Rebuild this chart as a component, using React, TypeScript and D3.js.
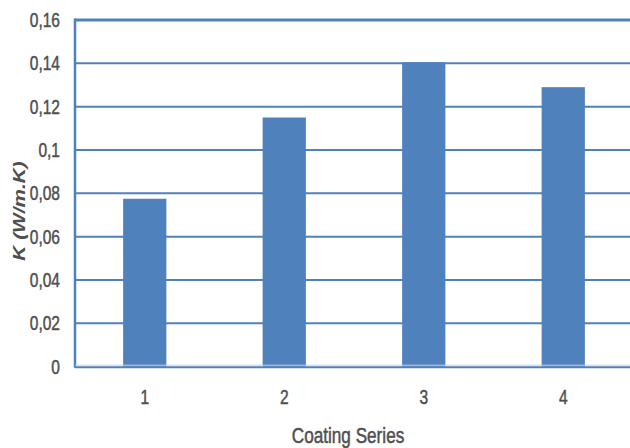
import React from "react";
import * as d3 from "d3";

const categories = ["1", "2", "3", "4"];
const values = [0.0775, 0.115, 0.1405, 0.129];
const yTicks = [0, 0.02, 0.04, 0.06, 0.08, 0.1, 0.12, 0.14, 0.16];
const yTickLabels = ["0", "0,02", "0,04", "0,06", "0,08", "0,1", "0,12", "0,14", "0,16"];

const W = 630;
const H = 448;
const BLUE = "#4F81BD";
const TEXT = "#4f4f4f";
const FONT = "'Liberation Sans', Arial, sans-serif";

export default function App() {
  const left = 75;
  const top = 20;
  const bottom = 366.7;
  const step = 139.5;

  const x = d3
    .scaleBand<string>()
    .domain(categories)
    .range([left, left + step * categories.length])
    .paddingInner(0.69)
    .paddingOuter(0.345);
  const y = d3.scaleLinear().domain([0, 0.16]).range([bottom, top]);

  return (
    <div style={{ position: "fixed", left: 0, top: 0, width: W, height: H, background: "#fff" }}>
      <svg width={W} height={H} style={{ display: "block" }}>
        {/* horizontal gridlines */}
        {yTicks.slice(1, -1).map((t) => (
          <line key={t} x1={left} x2={W} y1={y(t)} y2={y(t)} stroke={BLUE} strokeWidth={2} />
        ))}
        {/* bars */}
        {values.map((v, i) => (
          <rect
            key={categories[i]}
            x={x(categories[i])}
            y={y(v)}
            width={x.bandwidth()}
            height={bottom - y(v)}
            fill={BLUE}
          />
        ))}
        {/* frame: top border, left axis, baseline */}
        <line x1={left} x2={W} y1={y(0.16)} y2={y(0.16)} stroke={BLUE} strokeWidth={3} />
        <line x1={left} x2={left} y1={top - 1.5} y2={bottom + 1} stroke={BLUE} strokeWidth={2.5} />
        <line x1={left} x2={W} y1={bottom - 1.5} y2={bottom - 1.5} stroke="#d0d0d0" strokeWidth={1} />
        <line x1={left} x2={W} y1={bottom + 0.5} y2={bottom + 0.5} stroke={BLUE} strokeWidth={2} />

        {/* y tick labels */}
        {yTicks.map((t, i) => (
          <text
            key={t}
            transform={`translate(60,${y(t) + 7}) scale(0.74,1)`}
            textAnchor="end"
            fontFamily={FONT}
            fontSize={21}
            fill={TEXT}
            stroke={TEXT}
            strokeWidth={0.5}
          >
            {yTickLabels[i]}
          </text>
        ))}

        {/* x tick labels */}
        {categories.map((c) => (
          <text
            key={c}
            transform={`translate(${(x(c) as number) + x.bandwidth() / 2},${404}) scale(0.74,1)`}
            textAnchor="middle"
            fontFamily={FONT}
            fontSize={21}
            fill={TEXT}
            stroke={TEXT}
            strokeWidth={0.5}
          >
            {c}
          </text>
        ))}

        {/* axis titles */}
        <text
          transform={`translate(348,443) scale(0.78,1)`}
          textAnchor="middle"
          fontFamily={FONT}
          fontSize={22}
          fill={TEXT}
          stroke={TEXT}
          strokeWidth={0.5}
        >
          Coating Series
        </text>
        <text
          transform={`translate(25,211) rotate(-90) scale(1.3,1)`}
          textAnchor="middle"
          fontFamily={FONT}
          fontSize={16}
          fontWeight="bold"
          fontStyle="italic"
          fill={TEXT}
        >
          K (W/m.K)
        </text>
      </svg>
    </div>
  );
}
